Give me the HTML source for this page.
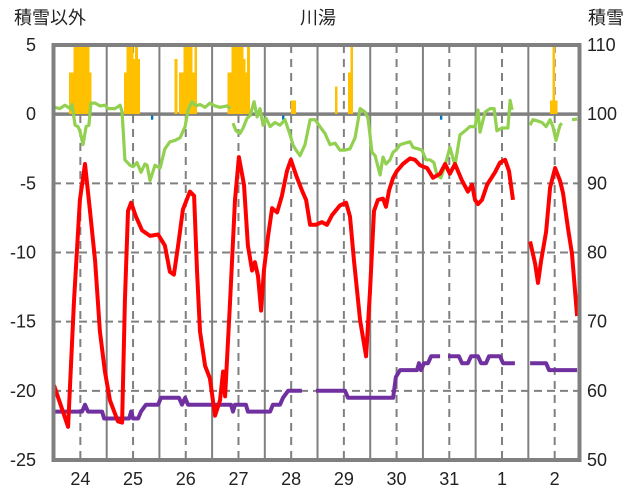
<!DOCTYPE html>
<html><head><meta charset="utf-8">
<style>
body{margin:0;background:#fff;}
svg{display:block;font-family:"Liberation Sans","Noto Sans CJK JP",sans-serif;}
</style></head>
<body>
<svg id="chart" width="636" height="501" viewBox="0 0 636 501">
<text x="50" y="24" font-size="18" text-anchor="middle" fill="#222">積雪以外</text>
<text x="318" y="24" font-size="18" text-anchor="middle" fill="#222">川湯</text>
<text x="606" y="24" font-size="18" text-anchor="middle" fill="#222">積雪</text>
<g id="grid"></g>
<g id="bars"></g>
<g id="lines"></g>
<g id="axes"></g>
</svg>
<script>
const dayLabels=["24","25","26","27","28","29","30","31","1","2"];
const leftTicks=[5,0,-5,-10,-15,-20,-25];
const rightTicks=[110,100,90,80,70,60,50];
// red: temperature [hour, value]
const redHours=[0,6.4,9.1,11.8,14.1,16.4,18.7,20.9,23.2,25.5,29.1,31,32.3,33.7,35.1,37.3,40.1,43.7,47.4,50.5,52.8,54.6,56.5,58.7,61.9,63.8,65.1,66.5,68.8,71,73.3,75.6,77,77.9,80.2,82.4,84.2,86.5,88.3,90.2,91.5,92.9,94.3,95.6,97.5,99.3,101.6,103.8,106.1,107.9,110.2,112.9,114.8,116.6,119.3,122,124.3,126.6,130.2,133,134.8,136.6,139.4,142.1,143.9,145.7,147.5,149.8,151.2,152.6,154.4,156.2,158.9,162.1,164.4,166.7,169.9,172.6,175.8,178.1,180.3,182.6,185.8,188.5,190.4,191.7,193.1,194.9,197.2,200.8,203.1,205.4,207.2,209,null,216.8,219.1,220.4,221.8,224.1,225.9,228.2,230.4,231.8,234.1,235.9,238.2];
const redValues=[-19.6,-22.6,-13.5,-6.2,-3.6,-7.0,-10.6,-15.7,-18.6,-20.7,-22.2,-22.3,-13.5,-7.0,-6.4,-7.4,-8.4,-8.8,-8.7,-9.5,-11.4,-11.6,-9.5,-6.9,-5.6,-5.9,-11.3,-15.7,-18.2,-19.1,-21.8,-20.7,-18.6,-20.4,-13.5,-6.2,-3.1,-5.1,-9.5,-11.3,-10.7,-11.7,-14.2,-11.3,-8.8,-6.8,-7.1,-5.9,-4.1,-3.3,-4.4,-5.5,-6.2,-8.0,-8.0,-7.8,-8.0,-7.3,-6.6,-6.4,-7.4,-10.6,-14.9,-17.5,-12.8,-7.0,-6.2,-6.1,-6.7,-5.5,-4.6,-4.1,-3.6,-3.2,-3.3,-3.7,-3.9,-4.6,-4.3,-3.6,-4.3,-3.6,-4.8,-5.6,-5.1,-6.2,-6.5,-6.2,-5.1,-4.2,-3.5,-3.3,-4.1,-6.2,null,-9.2,-10.8,-12.2,-10.6,-8.5,-5.3,-3.9,-4.8,-5.7,-8.3,-10.1,-14.6];
// green
const greenHours=[0,2.7,5,7.3,8.2,9.6,10.9,11.8,13.2,14.6,15.9,16.8,18.7,20.9,23.2,24.6,27.8,30.1,31,32.3,34.6,36,37.8,39.6,41.4,42.4,43.7,46,48.3,50.5,52.8,55.1,57.4,59.7,61,62.8,64.7,66.5,68.8,71,73.3,75.6,78.8,80.2,null,81.5,82.9,84.7,86.1,87.9,89.3,91.1,92.5,93.8,95.2,96.6,98.4,100.6,102.9,105.2,107.5,108.8,110.2,112,114.3,116.6,118.9,121.1,123.4,125.7,128,130.2,132.5,134.8,137.1,139.4,141.6,143,144.8,146.2,148.5,149.8,151.2,153,154.4,155.7,157.6,159.8,162.1,163.5,165.8,167.6,169.4,171.2,173,174.4,176.2,178.1,180.3,182.6,184.9,187.2,189.4,191.7,193.1,194,196.3,198.6,200.4,201.7,204,206.7,207.7,208.6,null,216.8,218.1,220.4,222.2,224.1,225.9,227.2,228.6,230.4,231.3,null,235.9,238.2];
const greenValues=[0.5,0.4,0.65,0.4,0.7,-0.8,-0.9,-1.2,-2.2,-0.9,-0.8,0.8,0.8,0.6,0.65,0.4,0.4,0.65,0.15,-3.3,-3.7,-3.8,-3.5,-4.2,-3.6,-3.7,-4.8,-3.7,-3.9,-2.5,-2.0,-1.9,-1.7,-0.9,0.3,0.9,0.6,0.7,0.5,0.8,0.6,0.5,0.6,0.4,null,-0.65,-1.2,-1.4,-1.0,-0.3,-0.1,0.9,-0.2,0.4,-0.8,-0.3,-0.9,-0.6,-0.8,-0.4,-1.5,-2.2,-2.6,-3.0,-2.2,-0.4,-0.4,-0.9,-1.4,-2.2,-2.1,-2.6,-2.6,-2.5,-1.7,0.4,0.15,-0.3,-2.75,-3.0,-4.4,-3.1,-3.6,-3.3,-2.75,-2.6,-2.2,-2.1,-2.0,-2.4,-2.5,-2.6,-3.3,-3.3,-3.5,-4.4,-4.6,-3.7,-2.4,-3.7,-1.5,-1.2,-0.9,-0.9,0.3,-1.3,0.15,0.4,0.4,-1.2,-1.0,-1.0,1.0,0.3,null,-0.8,-0.4,-0.5,-0.6,-0.9,-0.4,-0.9,-1.9,-0.8,-0.65,null,-0.4,-0.35];
// purple: snow depth (right axis)
const purpleHours=[0,12.8,14.1,15.5,21.9,22.8,34.2,35.1,36,38.3,39.6,41.9,47.4,48.7,56.9,58.3,59.7,61,80.6,81.5,82.4,87.4,88.3,98.4,99.7,102.9,104.3,106.6,112.9,null,119.3,132.5,133.9,154.4,155.7,157.6,165.3,166.2,167.1,168.5,170.3,171.7,175.8,null,179.4,184.4,185.8,188.5,189.9,193.1,194.5,196.7,198.1,203.1,204.5,209.9,null,216.8,224.1,225.4,238.2];
const purpleValues=[57,57,58,57,57,56,56,57,56,56,57,58,58,59,59,58,59,58,58,57,58,58,57,57,58,58,59,60,60,null,60,60,59,59,62,63,63,64,63,64,64,65,65,null,65,65,64,64,65,65,64,64,65,65,64,64,null,64,64,63,63];
// snowfall bars (hour index, value)
const snowHours=[7,8,9,10,11,12,13,14,15,16,32,33,34,35,36,37,38,55,57,58,59,60,61,62,63,64,79,80,81,82,83,84,85,86,87,88,108,109,128,134,135,226,227,228];
const snowValues=[3,3,5,5,5,5,5,5,5,3,3,5,5,5,4,5,4,4,3,3,5,5,5,5,3,5,3,3,5,5,5,5,5,4,3,5,1,1,2,3,5,1,5,1];
const rainHours=[44.6,104.3,176.2];
const rainValues=[-0.4,-0.4,-0.4];

const NS="http://www.w3.org/2000/svg";
const X0=54,PX_H=2.196,YT=45,YB=460;
const xs=h=>X0+h*PX_H;
const yl=v=>YT+(5-v)*(YB-YT)/30;
const yr=v=>YT+(110-v)*(YB-YT)/60;
function mk(tag,parent,attrs){const e=document.createElementNS(NS,tag);for(const k in attrs)e.setAttribute(k,attrs[k]);parent.appendChild(e);return e;}
const grid=document.getElementById('grid'),bars=document.getElementById('bars'),lines=document.getElementById('lines'),axes=document.getElementById('axes');
leftTicks.forEach(v=>{if(v===5||v===-25)return;
 const l=mk('line',grid,{x1:53,x2:580,y1:yl(v),y2:yl(v),stroke:'#808080','stroke-width':v===0?3.5:2,'stroke-dasharray':v===0?'none':'8 5'});
 
 });
for(let d=1;d<10;d++){const l=mk('line',grid,{x1:xs(24*d),x2:xs(24*d),y1:45,y2:460,stroke:'#808080','stroke-width':2});
 
 }
for(let d=0;d<10;d++){const l=mk('line',grid,{x1:xs(24*d+12),x2:xs(24*d+12),y1:45,y2:460,stroke:'#808080','stroke-width':2,'stroke-dasharray':'8 6'});
 
 }
snowHours.forEach((h,i)=>{const r=mk('rect',bars,{x:xs(h)-0.2,y:yl(snowValues[i]),width:PX_H+0.6,height:yl(0)-yl(snowValues[i]),fill:'#FFC000','shape-rendering':'crispEdges'});
 
 });
rainHours.forEach((h,i)=>{const r=mk('rect',bars,{x:xs(h)-1,y:yl(-0.1),width:2.4,height:yl(rainValues[i])-yl(-0.1),fill:'#0070C0'});
 
 });
function path(hours,vals,yf){let d='',pen=false;hours.forEach((h,i)=>{if(h===null||vals[i]===null){pen=false;return;}d+=(pen?'L':'M')+xs(h).toFixed(1)+' '+yf(vals[i]).toFixed(1);pen=true;});return d;}
const g=mk('path',lines,{d:path(greenHours,greenValues,yl),fill:'none',stroke:'#92D050','stroke-width':3.2,'stroke-linejoin':'round'});


const p=mk('path',lines,{d:path(purpleHours,purpleValues,yr),fill:'none',stroke:'#7030A0','stroke-width':4,'stroke-linejoin':'round'});


const r=mk('path',lines,{d:path(redHours,redValues,yl),fill:'none',stroke:'#FF0000','stroke-width':4,'stroke-linejoin':'round'});


const fr=mk('rect',axes,{x:53.5,y:45,width:526,height:415,fill:'none',stroke:'#808080','stroke-width':4});


leftTicks.forEach(v=>{const t=mk('text',axes,{x:36,y:yl(v)+6,'font-size':18,'text-anchor':'end',fill:'#222'});t.textContent=v;
 
 });
rightTicks.forEach(v=>{const t=mk('text',axes,{x:587,y:yr(v)+6,'font-size':18,fill:'#222'});t.textContent=v;
 
 });
dayLabels.forEach((s,i)=>{const t=mk('text',axes,{x:xs(24*i+12),y:485,'font-size':18,'text-anchor':'middle',fill:'#222'});t.textContent=s;
 
 });
</script>
</body></html>
